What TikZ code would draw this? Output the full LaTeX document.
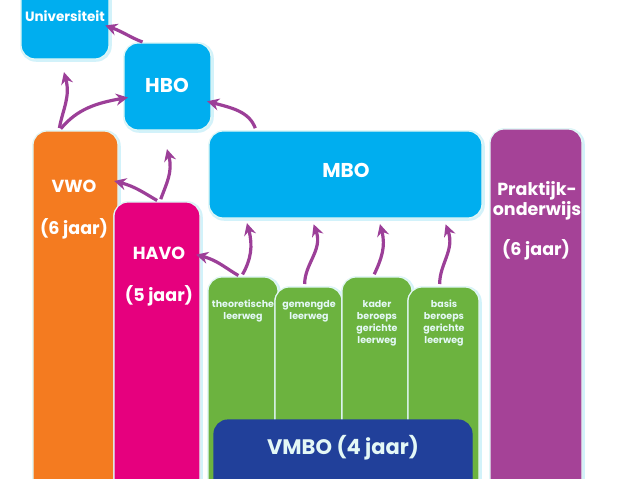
\documentclass[tikz,border=0pt]{standalone}
\usepackage{fontspec}
\setmainfont{Poppins}
\usetikzlibrary{arrows.meta}
\definecolor{schoolblue}{HTML}{00AEEF}
\definecolor{schoolorange}{HTML}{F47B20}
\definecolor{schoolpink}{HTML}{E6007E}
\definecolor{schoolgreen}{HTML}{6CB33F}
\definecolor{schoolpurple}{HTML}{A54297}
\definecolor{schoolnavy}{HTML}{21409A}
\definecolor{routepurple}{HTML}{9C3F98}
\definecolor{halo}{HTML}{D2F2FA}
\definecolor{rim}{HTML}{E4F8F6}
\tikzset{
	plainbox/.style={
			rectangle, rounded corners=14pt, inner sep=0pt, outer sep=0pt,
			fill=#1, draw=rim, line width=1.2pt
		},
	box/.style={
			plainbox=#1,
			preaction={draw=halo, line width=3.5pt, transform canvas={xshift=1pt, yshift=-1pt}}
		},
	boxname/.style={text=white, font=\bfseries\fontsize{17.5}{18}\selectfont, align=center, inner sep=0pt},
	routename/.style={text=rim, font=\bfseries\fontsize{9.5}{12}\selectfont, align=center, inner sep=0pt, anchor=north},
	route/.style={-{Stealth[length=12pt, width=12pt, inset=4pt]}, routepurple, line width=3.2pt, shorten >=-4pt, shorten <=3pt}
}

\begin{document}
\begin{tikzpicture}[x=1pt, y=-1pt]
		\useasboundingbox (0, 0) rectangle (638, 479);
		\fill [white] (0, 0) rectangle (638, 479);
		\clip (0, 0) rectangle (638, 479);

		\node [box=schoolblue, minimum width=88pt, minimum height=100pt]	(universiteit)	at (65, 9) {};
		\node [box=schoolblue, minimum width=87pt, minimum height=87pt]		(hbo)			at (167.5, 86.5) {};
		\node [box=schoolblue, minimum width=273pt, minimum height=87pt]	(mbo)			at (345.5, 174.5) {};
		\node [box=schoolorange, minimum width=85pt, minimum height=380pt]	(vwo)			at (75.5, 321) {};
		\node [box=schoolpink, minimum width=86pt, minimum height=310pt]	(havo)			at (157, 357) {};
		\node [box=schoolpurple, minimum width=92pt, minimum height=380pt]	(praktijk)		at (536, 319) {};

		\node [box=schoolgreen, minimum width=70pt, minimum height=230pt]	(theoretisch)	at (243, 392) {};
		\node [box=schoolgreen, minimum width=67pt, minimum height=220pt]	(gemengd)		at (308.5, 397) {};
		\node [box=schoolgreen, minimum width=70pt, minimum height=230pt]	(kader)			at (377, 392) {};
		\node [box=schoolgreen, minimum width=71pt, minimum height=220pt]	(basis)			at (443.5, 397) {};
		\node [plainbox=schoolnavy, draw=schoolnavy, minimum width=258pt, minimum height=90pt]	(vmbo)	at (343, 465) {};

		\node [boxname, font=\bfseries\fontsize{13.5}{16}\selectfont]	(universiteitname)	at (65, 16) {Universiteit};
		\node [boxname, font=\bfseries\fontsize{20}{24}\selectfont]	(hboname)	at (167, 85) {HBO};
		\node [boxname, font=\bfseries\fontsize{20}{24}\selectfont]	(mboname)	at (346, 170) {MBO};
		\node [boxname]	(vwoname)	at (74, 186) {VWO};
		\node [boxname]	(vwojaar)	at (74, 229) {(6 jaar)};
		\node [boxname]	(havoname)	at (159, 253) {HAVO};
		\node [boxname]	(havojaar)	at (159, 296) {(5 jaar)};
		\node [boxname]	(praktijkname)	at (537, 201) {Praktijk-\\onderwijs};
		\node [boxname]	(praktijkjaar)	at (536, 250) {(6 jaar)};
		\node [boxname, font=\bfseries\fontsize{21}{24}\selectfont, text=rim]	(vmboname)	at (343, 448) {VMBO (4 jaar)};

		\node [routename]	(theoretischname)	at (243, 300) {theoretische\\leerweg};
		\node [routename]	(gemengdname)		at (309, 300) {gemengde\\leerweg};
		\node [routename]	(kadername)			at (377, 300) {kader\\beroeps\\gerichte\\leerweg};
		\node [routename]	(basisname)			at (444, 300) {basis\\beroeps\\gerichte\\leerweg};

		\coordinate (vwoup)			at (65, 76);
		\coordinate (havoup)		at (168, 153);
		\coordinate (theoretischup)	at (248, 227);
		\coordinate (gemengdup)		at (315, 228);
		\coordinate (kaderup)		at (381, 228);
		\coordinate (basisup)		at (447, 228);

		\draw [route]	(hbo.117) to [out=160, in=-20] (universiteit.-22);
		\draw [route]	(vwo.95) to [out=80, in=-75] (vwoup);
		\draw [route]	(vwo.95) to [out=50, in=190] (hbo.195);
		\draw [route]	(mbo.154) to [out=110, in=-15] (hbo.-20);
		\draw [route]	(havo.89) to [out=150, in=-15] (vwo.73);
		\draw [route]	(havo.89) to [out=70, in=-75] (havoup);
		\draw [route]	(theoretisch.91) to [out=150, in=-15] (havo.67);
		\draw [route]	(theoretisch.91) to [out=60, in=-75] (theoretischup);
		\draw [route]	(gemengd.92) to [out=90, in=-70] (gemengdup);
		\draw [route]	(kader.92) to [out=65, in=-75] (kaderup);
		\draw [route]	(basis.92) to [out=90, in=-70] (basisup);
	\end{tikzpicture}
\end{document}
